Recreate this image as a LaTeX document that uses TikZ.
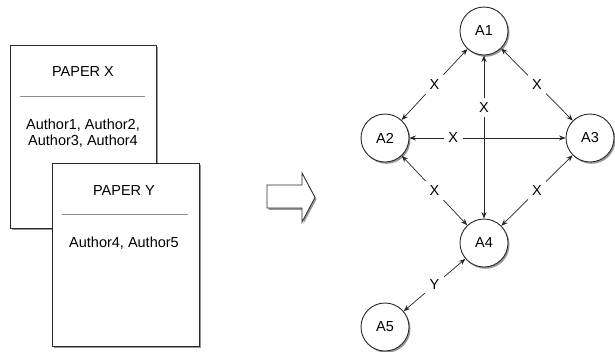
\documentclass[tikz,border=0pt]{standalone}
\usepackage{fontspec}
\setmainfont{Liberation Sans}
\usetikzlibrary{shadows,arrows.meta}
\definecolor{edge}{HTML}{2A2A2A}
\begin{document}
\begin{tikzpicture}[x=1pt,y=-1pt,
  font=\fontsize{14.5}{17}\selectfont,
  shad/.style={drop shadow={shadow xshift=1.5pt,shadow yshift=-1.8pt,opacity=0.55,fill=black!75}},
  paper/.style={draw=edge,line width=0.9pt,fill=white,shad},
  agent/.style={circle,draw=edge,line width=0.9pt,fill=white,minimum size=48pt,inner sep=0pt,shad},
  link/.style={draw=black!85,line width=0.7pt,{Stealth[length=6.5pt,width=5pt]}-{Stealth[length=6.5pt,width=5pt]}},
  lab/.style={fill=white,inner sep=4.5pt}]
\useasboundingbox (0,0) rectangle (615,351);
% papers
\path[paper] (10,45) rectangle (156,228);
\node (px) at (83,72) {PAPER X};
\draw[black!45,line width=0.6pt] (20,96) -- (145,96);
\node[align=center,font=\fontsize{14.5}{16}\selectfont] (ax) at (83,133) {Author1, Author2,\\Author3, Author4};
\path[paper] (52,163) rectangle (199,346);
\node (py) at (124,191) {PAPER Y};
\draw[black!45,line width=0.6pt] (62,214) -- (188,214);
\node (ay) at (124,243) {Author4, Author5};
% block arrow
\path[draw=edge,line width=0.8pt,fill=white,shad] (267,185) -- (302,185) -- (302,173) -- (315,197.5) -- (302,222) -- (302,208) -- (267,208) -- cycle;
% agents
\node[agent] (A1) at (484,31) {A1};
\node[agent] (A2) at (385,138) {A2};
\node[agent] (A3) at (590,138) {A3};
\node[agent] (A4) at (484,243) {A4};
\node[agent] (A5) at (385,327) {A5};
% links
\draw[link] (A2) -- node[lab,pos=0.28] {X} (A3);
\draw[link] (A4) -- node[lab,pos=0.68] {X} (A1);
\draw[link] (A2) -- node[lab] {X} (A1);
\draw[link] (A1) -- node[lab] {X} (A3);
\draw[link] (A2) -- node[lab] {X} (A4);
\draw[link] (A3) -- node[lab] {X} (A4);
\draw[link] (A5) -- node[lab] {Y} (A4);
\end{tikzpicture}
\end{document}
